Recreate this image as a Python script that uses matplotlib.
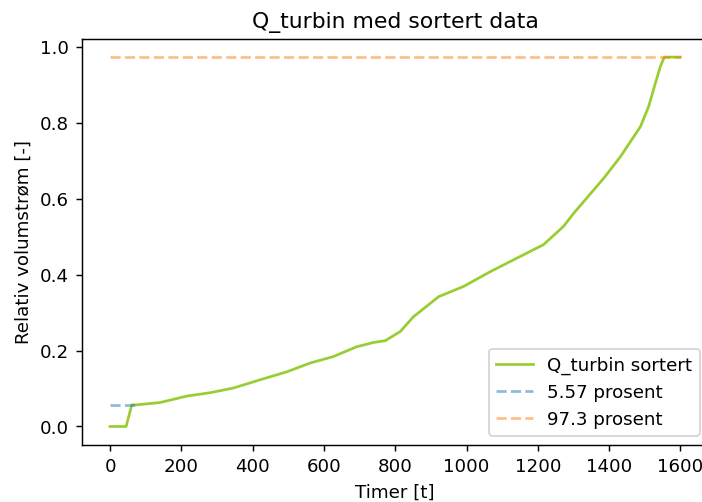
import matplotlib
matplotlib.use("Agg")
from matplotlib import pyplot as plt

# sorted relative flow, read at breakpoints (hours, relative value)
timer = [0, 45, 61, 75, 140, 215, 281, 345, 421, 496, 561, 626, 692, 738,
         772, 814, 851, 922, 992, 1067, 1151, 1216, 1272, 1301,
         1385, 1432, 1488, 1511, 1530, 1544, 1555, 1600]
q_sortert = [0.0, 0.0, 0.057, 0.057, 0.063, 0.080, 0.089, 0.101, 0.123,
             0.144, 0.167, 0.184, 0.210, 0.221, 0.226, 0.250, 0.289,
             0.342, 0.369, 0.408, 0.448, 0.479, 0.527, 0.562, 0.654,
             0.711, 0.790, 0.843, 0.905, 0.949, 0.973, 0.973]

q_min = 0.0557
q_maks = 0.973
t_min = [0, 75]
t_maks = [0, 1600]

dpi = 131
fig = plt.figure(figsize=(702.4 / dpi, 502.4 / dpi), dpi=dpi)
ax = fig.add_axes([81.5 / 702, 57 / 502, 627 / 702, 406 / 502])

ax.plot(timer, q_sortert, color="yellowgreen", label="Q_turbin sortert")
ax.plot(t_min, [q_min, q_min], "--", color="tab:blue", alpha=0.5, label="5.57 prosent")
ax.plot(t_maks, [q_maks, q_maks], "--", color="tab:orange", alpha=0.5, label="97.3 prosent")

ax.set_xlim(-80, 1680)
ax.set_ylim(-0.0487, 1.0217)
ax.set_xticks(range(0, 1601, 200))
ax.set_yticks([0.0, 0.2, 0.4, 0.6, 0.8, 1.0])
ax.spines["right"].set_visible(False)

ax.set_title("Q_turbin med sortert data")
ax.set_xlabel("Timer [t]")
ax.set_ylabel("Relativ volumstrøm [-]")
ax.legend(loc="lower right")

fig.savefig("out.png", dpi=dpi)
